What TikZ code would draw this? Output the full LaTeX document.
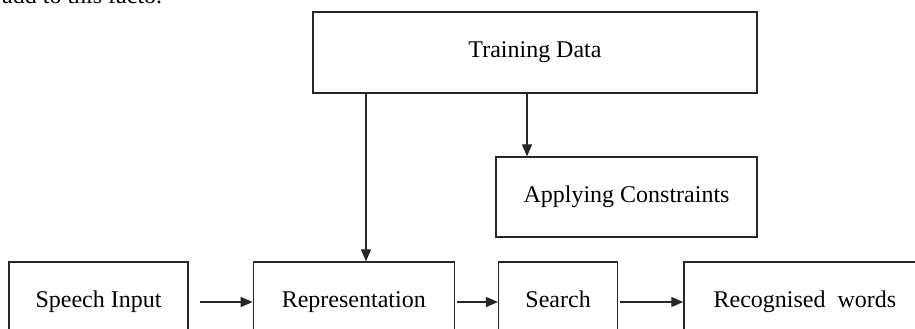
\documentclass[tikz,border=0pt]{standalone}
\usepackage{fontspec}
\setmainfont{Liberation Serif}
\usepackage{tikz}
\usetikzlibrary{positioning, arrows.meta}
\tikzset{
    x=1pt, y=-1pt, % one unit is one pixel of the picture, y going down
    block/.style={draw=black!85, line width=1.3pt, rectangle, minimum height=80pt, inner sep=0pt, text height=16pt, text depth=5pt, font=\fontsize{24}{28}\selectfont}, % every box
    flow/.style={draw=black!85, line width=1.2pt, -{Triangle[length=12pt, width=10pt]}}, % every connector
}

\begin{document}
\begin{tikzpicture}
    \useasboundingbox (0,0) rectangle (915,329);
    \node[anchor=base west, inner sep=0pt, font=\fontsize{24}{28}\selectfont] (prev) at (2,4) {add to this facto.};
    \node[block, minimum width=444pt, minimum height=81pt] (train) at (535,52.5) {Training Data};
    \node[block, minimum width=261pt] (apply) at (626.5,197) {Applying Constraints};
    \node[block, minimum width=179pt] (speech) at (98.5,302) {Speech Input};
    \node[block, minimum width=201pt, right=64pt of speech] (repr) {Representation};
    \node[block, minimum width=119pt, right=43pt of repr] (search) {Search};
    \node[block, minimum width=242pt, right=65pt of search] (words) {Recognised\ \ words};
    \draw[flow] ([xshift=-169pt]train.south) -- ([xshift=-169pt]train.south |- repr.north);
    \draw[flow] ([xshift=-8pt]train.south) -- ([xshift=-8pt]train.south |- apply.north);
    \draw[flow] ([xshift=11pt]speech.east) -- (repr.west);
    \draw[flow] ([xshift=2pt]repr.east) -- (search.west);
    \draw[flow] ([xshift=2pt]search.east) -- (words.west);
\end{tikzpicture}
\end{document}
